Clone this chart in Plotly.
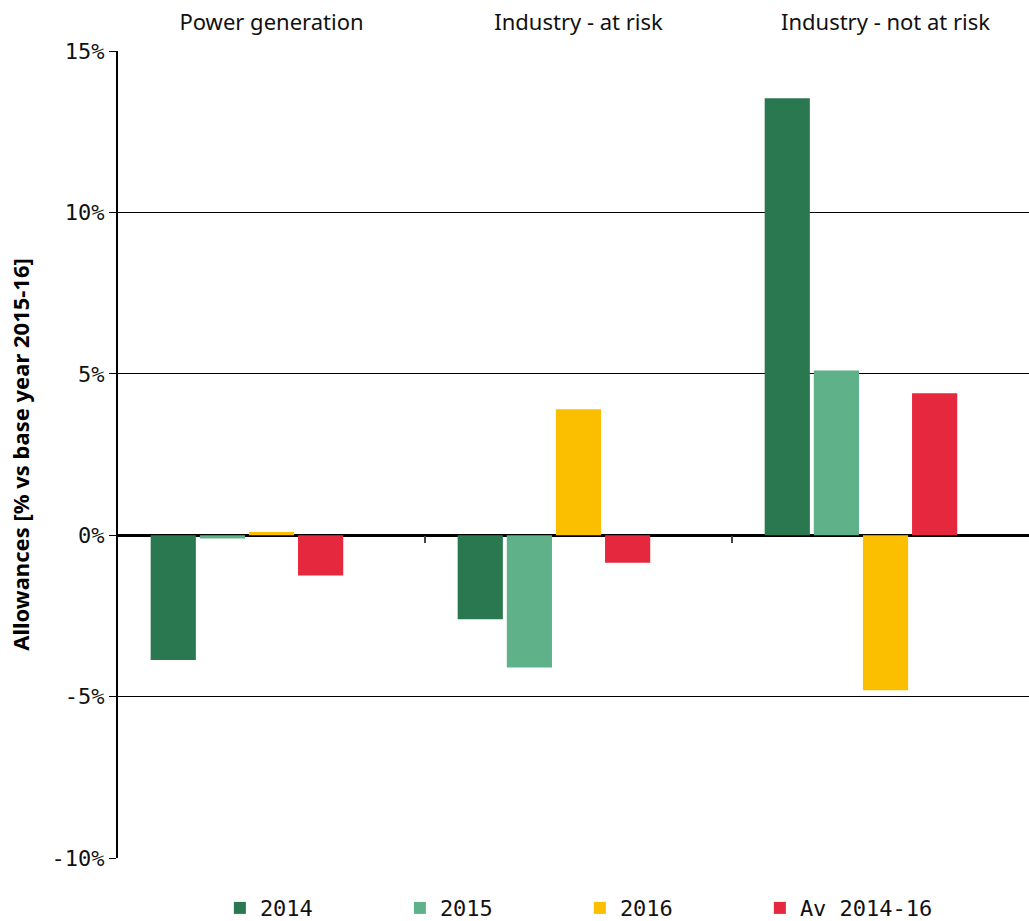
import plotly.graph_objects as go

# données
categories = ["Power generation", "Industry - at risk", "Industry - not at risk"]
series_names = ["2014", "2015", "2016", "Av 2014-16"]
v_2014 = [-3.87, -2.6, 13.54]
v_2015 = [-0.1, -4.1, 5.1]
v_2016 = [0.1, 3.9, -4.8]
v_av = [-1.25, -0.85, 4.4]
colors = ["#2a7850", "#5fb189", "#fbbf00", "#e6283f"]

y_ticks = [-10, -5, 0, 5, 10, 15]
y_ticklabels = ["-10%", "-5%", "0%", "5%", "10%", "15%"]

MONO = "DejaVu Sans Mono"
SANS = "Noto Sans"

fig = go.Figure()
for name, vals, col in zip(series_names, [v_2014, v_2015, v_2016, v_av], colors):
    fig.add_trace(go.Bar(x=categories, y=vals, name=name, marker_color=col,
                         marker_line_width=0))
# série vide (place réservée dans chaque groupe, comme dans l'original)
fig.add_trace(go.Bar(x=categories, y=[None, None, None], showlegend=False,
                     hoverinfo="skip"))
# trace invisible pour porter l'axe des graduations sur la ligne zéro
fig.add_trace(go.Scatter(x=categories, y=[0, 0, 0], xaxis="x2", mode="none",
                         showlegend=False, hoverinfo="skip"))

xr = [-0.5, 2.5 - 10 / 306.5]
fig.update_layout(
    width=1029, height=921,
    margin=dict(l=118, r=0, t=51, b=63),
    plot_bgcolor="white", paper_bgcolor="white",
    barmode="group", bargap=0.2, bargroupgap=0.08,
    xaxis=dict(side="top", range=xr, showline=False, showgrid=False,
               ticks="", tickfont=dict(family=SANS, size=22, color="#111"),
               ticklabelstandoff=16, automargin=False),
    xaxis2=dict(overlaying="x", anchor="free", position=0.4, side="bottom",
                range=xr, tickmode="array", tickvals=[0.5, 1.5],
                ticks="outside", ticklen=7, tickwidth=1.5, tickcolor="#444",
                showticklabels=False, showgrid=False, showline=False,
                automargin=False),
    yaxis=dict(range=[-10, 15], tickvals=y_ticks, ticktext=y_ticklabels,
               showgrid=True, gridcolor="black", gridwidth=1,
               zeroline=True, zerolinecolor="black", zerolinewidth=2.5,
               showline=True, linecolor="black", linewidth=2,
               ticks="outside", ticklen=7, tickcolor="black",
               tickfont=dict(family=MONO, size=22, color="#111"),
               automargin=False,
               title=dict(text="<b>Allowances [% vs base year 2015-16]</b>",
                          font=dict(family=SANS, size=22, color="black"),
                          standoff=16)),
    legend=dict(orientation="h", x=0.507, xanchor="center",
                yref="container", y=0.014, yanchor="middle",
                entrywidth=135, entrywidthmode="pixels",
                font=dict(family=MONO, size=22, color="#111"),
                traceorder="normal"),
    showlegend=True,
)

# pas de marge autour du graphique dans la page
fig.write_html("out.html", config={"displayModeBar": False},
               post_script="document.body.style.margin='0';")
